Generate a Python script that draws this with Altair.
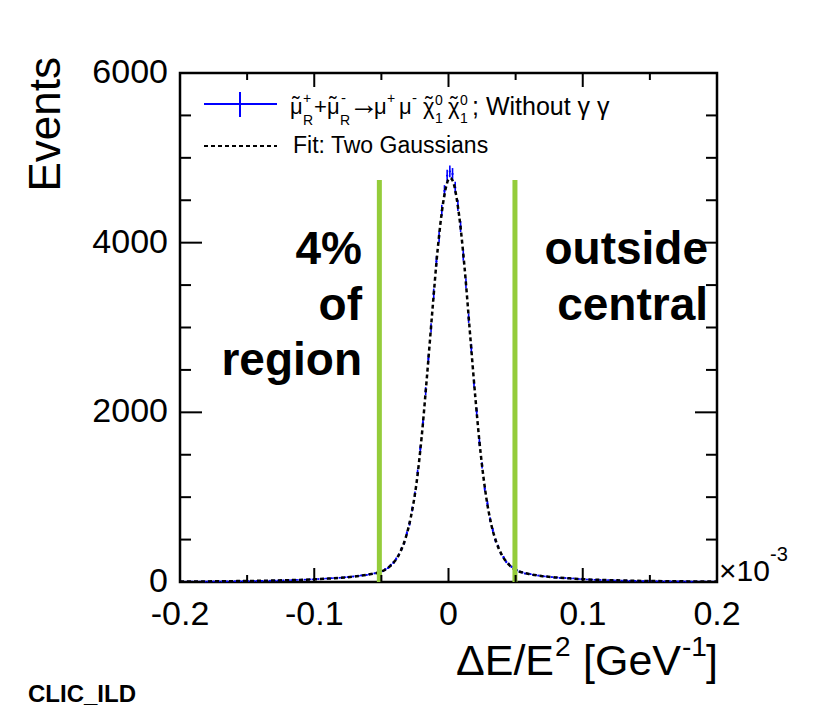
import altair as alt
import pandas as pd

# ---------------- data ----------------
bin_low = -0.2
bin_width = 0.002
counts = [
    5, 4, 5, 5, 6, 5, 6, 6, 7, 6,
    7, 7, 8, 7, 8, 8, 9, 8, 9, 10,
    10, 11, 10, 11, 12, 11, 12, 13, 13, 14,
    14, 15, 15, 16, 17, 17, 18, 19, 20, 20,
    22, 22, 23, 25, 25, 27, 28, 29, 31, 31,
    33, 35, 36, 39, 41, 42, 45, 46, 48, 50,
    53, 55, 58, 61, 65, 69, 73, 77, 80, 83,
    90, 92, 102, 110, 118, 128, 150, 165, 200, 228,
    272, 318, 390, 462, 575, 690, 860, 1035, 1290, 1570,
    1880, 2250, 2630, 2995, 3400, 3780, 4070, 4380, 4610, 4790,
    4840, 4810, 4650, 4440, 4190, 3850, 3520, 3110, 2755, 2340,
    2010, 1645, 1375, 1100, 925, 735, 612, 490, 418, 336,
    290, 238, 212, 180, 158, 140, 122, 113, 100, 98,
    93, 85, 84, 76, 74, 66, 65, 59, 58, 52,
    53, 48, 46, 47, 43, 41, 42, 37, 35, 34,
    33, 30, 29, 28, 26, 27, 24, 23, 22, 22,
    20, 21, 19, 18, 17, 17, 16, 15, 15, 14,
    13, 14, 12, 12, 11, 12, 11, 10, 11, 10,
    9, 10, 9, 8, 9, 8, 7, 8, 7, 7,
    6, 7, 6, 6, 5, 6, 5, 5, 5, 4,
]

fit_x = [-0.2, -0.18, -0.16, -0.14, -0.12, -0.1, -0.09, -0.08, -0.07, -0.06,
         -0.055, -0.05, -0.045, -0.04, -0.036, -0.032, -0.028, -0.024, -0.02,
         -0.016, -0.012, -0.008, -0.004, -0.002, 0.0, 0.0013, 0.002, 0.004,
         0.006, 0.008, 0.012, 0.016, 0.02, 0.024, 0.028, 0.032, 0.036, 0.04,
         0.044, 0.048, 0.052, 0.056, 0.06, 0.07, 0.08, 0.09, 0.1, 0.12, 0.14,
         0.16, 0.18, 0.2]
fit_y = [5, 7, 10, 14, 21, 31, 40, 51, 64, 87,
         101, 123, 168, 247, 352, 515, 770, 1145, 1710,
         2430, 3200, 3930, 4470, 4645, 4745, 4760, 4755, 4690,
         4530, 4310, 3700, 2935, 2175, 1510, 1010, 670, 452, 312,
         222, 163, 127, 108, 94, 69, 54, 44, 33, 22, 14,
         10, 7, 5]

cut_x = [-0.0515, 0.0495]
cut_top = [4740, 4740]

x_major = [-0.2, -0.1, 0.0, 0.1, 0.2]
x_minor = [-0.15, -0.05, 0.05, 0.15]
x_tick_labels = ["-0.2", "-0.1", "0", "0.1", "0.2"]
y_major = [0, 2000, 4000, 6000]
y_minor = [500, 1000, 1500, 2500, 3000, 3500, 4500, 5000, 5500]
y_tick_labels = ["0", "2000", "4000", "6000"]

# ---------------- layout ----------------
W, H = 537, 509
FONT = "Liberation Sans"
BLUE = "#0000ff"
GREEN = "#94cc3a"

xs = alt.Scale(domain=[-0.2, 0.2], nice=False, zero=False)
ys = alt.Scale(domain=[0, 6000], nice=False, zero=False)

centers = [bin_low + bin_width * (i + 0.5) for i in range(len(counts))]
hist = pd.DataFrame({"x": centers, "n": counts})

base = alt.Chart(hist).transform_calculate(
    lo="datum.n - sqrt(datum.n)",
    hi="datum.n + sqrt(datum.n)",
    xl="datum.x - 0.0008",
    xr="datum.x + 0.0008",
)

err_h = base.mark_rule(color=BLUE, strokeWidth=1.6).encode(
    x=alt.X("xl:Q", scale=xs, axis=None), x2="xr:Q",
    y=alt.Y("n:Q", scale=ys, axis=None))
err_v = base.mark_rule(color=BLUE, strokeWidth=1.6).encode(
    x=alt.X("x:Q", scale=xs, axis=None),
    y=alt.Y("lo:Q", scale=ys, axis=None), y2="hi:Q")

fit = alt.Chart(pd.DataFrame({"x": fit_x, "y": fit_y})).mark_line(
    color="black", strokeWidth=2.5, strokeDash=[4, 3], interpolate="monotone"
).encode(x=alt.X("x:Q", scale=xs, axis=None), y=alt.Y("y:Q", scale=ys, axis=None))

cuts = alt.Chart(pd.DataFrame({"x": cut_x, "top": cut_top, "zero": [0, 0]})).mark_rule(
    color=GREEN, strokeWidth=5
).encode(x=alt.X("x:Q", scale=xs, axis=None),
         y=alt.Y("zero:Q", scale=ys, axis=None), y2="top:Q")


def xticks(vals, length):
    d = pd.DataFrame({"v": vals})
    bot = alt.Chart(d).mark_rule(color="black", strokeWidth=2).encode(
        x=alt.X("v:Q", scale=xs, axis=None), y=alt.value(H), y2=alt.value(H - length))
    top = alt.Chart(d).mark_rule(color="black", strokeWidth=2).encode(
        x=alt.X("v:Q", scale=xs, axis=None), y=alt.value(0), y2=alt.value(length))
    return [bot, top]


def yticks(vals, length):
    d = pd.DataFrame({"v": vals})
    left = alt.Chart(d).mark_rule(color="black", strokeWidth=2).encode(
        y=alt.Y("v:Q", scale=ys, axis=None), x=alt.value(0), x2=alt.value(length))
    right = alt.Chart(d).mark_rule(color="black", strokeWidth=2).encode(
        y=alt.Y("v:Q", scale=ys, axis=None), x=alt.value(W), x2=alt.value(W - length))
    return [left, right]


xlab = alt.Chart(pd.DataFrame({"v": x_major, "t": x_tick_labels})).mark_text(
    font=FONT, fontSize=34, align="center", baseline="alphabetic", color="black"
).encode(x=alt.X("v:Q", scale=xs, axis=None), y=alt.value(H + 43), text="t:N")

ylab = alt.Chart(pd.DataFrame({"v": y_major, "t": y_tick_labels})).mark_text(
    font=FONT, fontSize=34, align="right", baseline="middle", color="black"
).encode(y=alt.Y("v:Q", scale=ys, axis=None), x=alt.value(-12), text="t:N")


def txt(s, x, y, size, align="left", bold=False, angle=0, color="black", baseline="alphabetic"):
    return alt.Chart(pd.DataFrame({"t": [s]})).mark_text(
        font=FONT, fontSize=size, align=align, baseline=baseline,
        fontWeight="bold" if bold else "normal", angle=angle, color=color
    ).encode(x=alt.value(x), y=alt.value(y), text="t:N")


def seg(x1, y1, x2, y2, color, width, dash=None):
    kw = dict(color=color, strokeWidth=width)
    if dash:
        kw["strokeDash"] = dash
    return alt.Chart(pd.DataFrame({"a": [0]})).mark_rule(**kw).encode(
        x=alt.value(x1), y=alt.value(y1), x2=alt.value(x2), y2=alt.value(y2))


MU = "\u03bc"
CHI = "\u03c7"
TILDE = "\u02dc"
LB = 41      # legend line 1 baseline
SUP = 30     # superscript baseline
SUB = 52     # subscript baseline
legend = [
    seg(24, 31, 97, 31, BLUE, 2),
    seg(60, 19, 60, 44, BLUE, 2),
    seg(24, 73, 97, 73, "black", 2.2, [4, 3]),
    # mu-tilde_R^+
    txt(MU, 110, LB, 22), txt(TILDE, 116, LB - 2, 22, align="center"),
    txt("+", 123, SUP, 14), txt("R", 123, SUB, 14),
    # + mu-tilde_R^-
    txt("+", 134, LB, 22),
    txt(MU, 147, LB, 22), txt(TILDE, 153, LB - 2, 22, align="center"),
    txt("-", 161, SUP, 15), txt("R", 160, SUB, 14),
    # -> mu+ mu-
    txt("\u2192", 169, LB, 30),
    txt(MU, 194, LB, 22), txt("+", 207, SUP, 14),
    txt(MU, 219, LB, 22), txt("-", 232, SUP, 15),
    # chi-tilde_1^0 chi-tilde_1^0
    txt(CHI, 243, LB, 22), txt(TILDE, 249, LB - 2, 22, align="center"),
    txt("0", 255, SUP + 2, 14), txt("1", 255, SUB - 2, 14),
    txt(CHI, 268, LB, 22), txt(TILDE, 274, LB - 2, 22, align="center"),
    txt("0", 280, SUP + 2, 14), txt("1", 280, SUB - 2, 14),
    txt("; Without \u03b3 \u03b3", 292, LB + 1, 25),
    txt("Fit: Two Gaussians", 113, 80, 23),
]

notes = [
    txt("4%", 182, 191, 46, align="right", bold=True),
    txt("of", 182, 247, 46, align="right", bold=True),
    txt("region", 182, 302, 46, align="right", bold=True),
    txt("outside", 528, 191, 46, align="right", bold=True),
    txt("central", 528, 247, 46, align="right", bold=True),
]

titles = [
    txt("Events", -120, -16, 44, align="right", angle=270),
    # x title: ΔE/E^2 [GeV^-1]
    txt("\u0394E/E", 276, 602, 43),
    txt("2", 375, 583, 28),
    txt("[GeV", 403, 602, 43),
    txt("-1", 502, 583, 28),
    txt("]", 526, 602, 43),
    txt("\u00d710", 539, 508, 30),
    txt("-3", 590, 488, 20),
    txt("CLIC_ILD", -152, 629, 24, bold=True),
]

layers = [err_h, err_v, fit, cuts]
layers += xticks(x_major, 14) + xticks(x_minor, 7)
layers += yticks(y_major, 22) + yticks(y_minor, 11)
layers += [xlab, ylab] + legend + notes + titles

chart = alt.layer(*layers).properties(
    width=W, height=H,
    autosize=alt.AutoSizeParams(type="none"),
    padding={"left": 172, "top": 65, "right": 106, "bottom": 126},
    background="white",
).configure_view(stroke="black", strokeWidth=2.5)

chart.save("out.html", embed_options={"renderer": "svg", "actions": False})
